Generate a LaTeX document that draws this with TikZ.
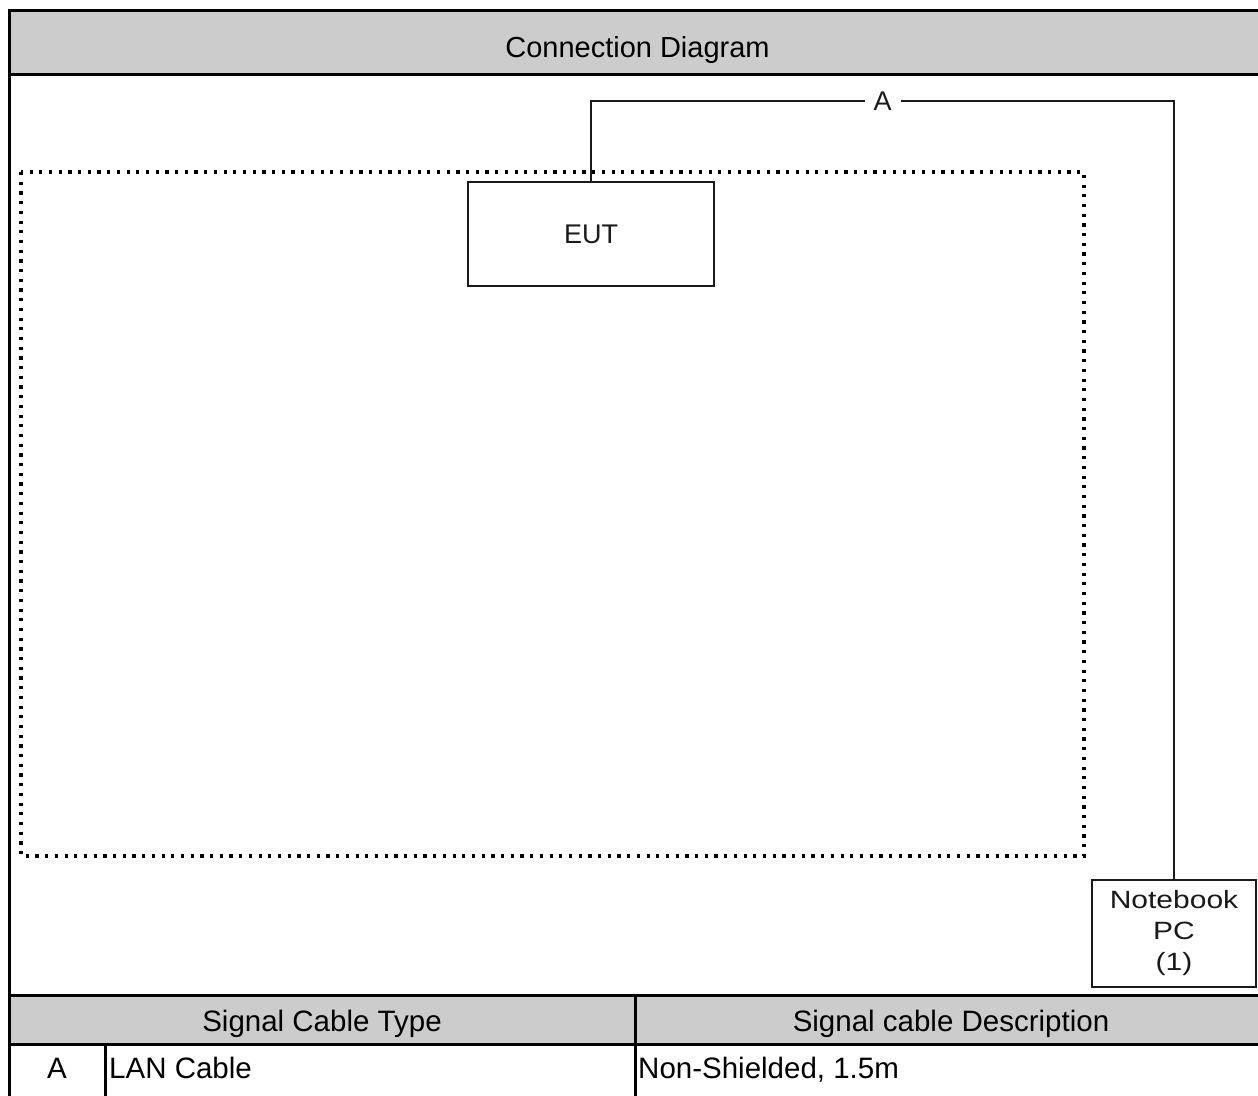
\documentclass[tikz,border=0pt]{standalone}
\usepackage{fontspec}
\setmainfont{Liberation Sans}
\newfontfamily\widefont[FakeStretch=1.2]{Liberation Sans}
\definecolor{hdrgray}{HTML}{CCCCCC}
\definecolor{ink}{HTML}{1A1A1A}
\begin{document}
\begin{tikzpicture}[x=1pt,y=-1pt,
  frame/.style={line width=3pt,black},
  devbox/.style={draw=ink,line width=2pt,rectangle,inner sep=0pt},
  cable/.style={draw=ink,line width=2pt},
  enclosure/.style={draw=black,line width=3.2pt,dash pattern=on 3.2pt off 6.5pt},
  tabletext/.style={font=\fontsize{29.5}{33}\selectfont,inner sep=0pt,anchor=base},
  devtext/.style={font=\fontsize{27}{30}\selectfont,text=ink}
]
\useasboundingbox (0,0) rectangle (1258,1095);
% header bands
\fill[hdrgray] (9,10) rectangle (1262,74);
\fill[hdrgray] (9,995) rectangle (1262,1044);
% frame lines
\draw[frame] (9,10) -- (1262,10);
\draw[frame] (9,74) -- (1262,74);
\draw[frame] (9,995) -- (1262,995);
\draw[frame] (9,1044) -- (1262,1044);
\draw[frame] (9,8.5) -- (9,1100);
\draw[frame] (635,995) -- (635,1100);
\draw[frame] (105,1044) -- (105,1100);
% titles
\node[tabletext,font=\fontsize{29}{33}\selectfont] (title) at (637.5,57) {Connection Diagram};
\node[tabletext] (colA) at (322,1031) {Signal Cable Type};
\node[tabletext] (colB) at (951,1031) {Signal cable Description};
\node[tabletext] (rowid) at (57,1078) {A};
\node[tabletext,anchor=base west] (rowtype) at (109,1078) {LAN Cable};
\node[tabletext,anchor=base west] (rowdesc) at (638,1078) {Non-Shielded, 1.5m};
% enclosure
\draw[enclosure] (21,172) rectangle (1084,856);
% devices
\node[devbox,devtext,minimum width=246pt,minimum height=104pt] (eut) at (591,234) {EUT};
\node[devbox,minimum width=164pt,minimum height=107pt,align=center,
      font=\widefont\fontsize{25}{31}\selectfont,text=ink] (pc) at (1174,933.5) {Notebook\\PC\\(1)};
% cable
\coordinate (corner) at (1174,101);
\draw[cable] (eut.north) |- node[pos=0.75,fill=white,inner xsep=9pt,inner ysep=3pt,devtext]{A} (corner) -- (pc.north);
\end{tikzpicture}
\end{document}
